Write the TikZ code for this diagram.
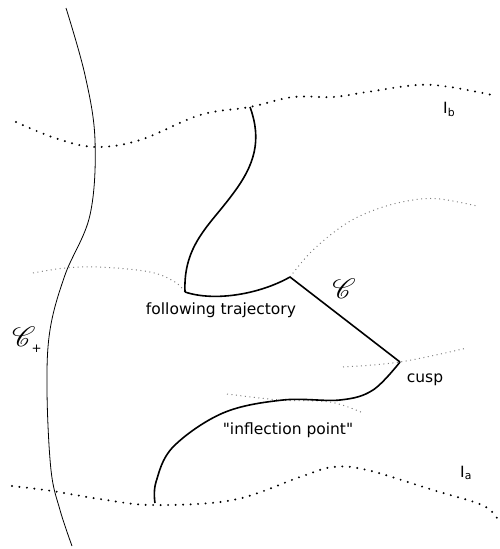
\documentclass[tikz,border=0pt]{standalone}
\usepackage{fontspec}
\setmainfont{DejaVu Sans}
\newfontfamily\plainquotes{DejaVu Sans}[Ligatures=TeXOff]
\usepackage{mathrsfs}
\tikzset{
  thickpath/.style={line width=1.6pt, line join=round},
  thinpath/.style={line width=0.8pt},
  bigdots/.style={line width=2.2pt, line cap=round, dash pattern=on 0pt off 7.5pt},
  finedots/.style={line width=1pt, gray, dash pattern=on 1pt off 3.5pt},
  lbl/.style={font=\fontsize{15.5}{18}\selectfont, inner sep=0pt, anchor=base},
  scr/.style={inner sep=0pt},
}
\begin{document}
\begin{tikzpicture}[x=1pt,y=-1pt]
\useasboundingbox (0,0) rectangle (500,549);

% key points of the trajectory
\coordinate (top) at (250,107);
\coordinate (k1) at (185,292);
\coordinate (k2) at (290,277);
\coordinate (cusp) at (400,362);
\coordinate (bot) at (155,503);

% level lines
\draw[bigdots] plot[smooth, tension=0.6] coordinates {(16,122) (55,138) (95,147) (140,140) (200,115) (250,107) (293,97) (333,97) (367,92) (417,85) (450,87) (497,96)};
\draw[bigdots] plot[smooth, tension=0.6] coordinates {(12,486) (52,491) (100,499) (153,505) (233,500) (300,477) (333,467) (367,470) (433,490) (482,505) (497,518)};

% boundary curve
\draw[thinpath] plot[smooth, tension=0.6] coordinates {(66,8) (85,75) (95,140) (90,215) (65,275) (50,330) (47,390) (51,470) (60,510) (72,546)};

% fine dotted guides
\draw[finedots] plot[smooth, tension=0.6] coordinates {(33,273) (65,268) (100,267) (150,272) (175,282) (k1)};
\draw[finedots] plot[smooth, tension=0.6] coordinates {(k2) (313,250) (347,223) (380,208) (413,200) (440,199) (477,206)};
\draw[finedots] plot[smooth, tension=0.6] coordinates {(343,367) (cusp) (467,348)};
\draw[finedots] plot[smooth, tension=0.6] coordinates {(227,394) (280,400) (330,402) (363,413)};

% the trajectory
\draw[thickpath] (top) .. controls (262,140) and (255,165) .. (232,195)
  .. controls (210,225) and (183,245) .. (k1);
\draw[thickpath] (k1) .. controls (215,302) and (260,294) .. (k2) -- (cusp);
\draw[thickpath] plot[smooth, tension=0.6] coordinates {(cusp) (373,390) (340,400) (283,400) (223,413) (173,447) (156,482) (bot)};

% labels
\node[lbl] (ft) at (221,314) {following trajectory};
\node[lbl] (cu) at (425,382) {cusp};
\node[lbl, font=\fontsize{15.5}{18}\plainquotes] (ip) at (288,434) {"inflection point"};
\node[lbl, anchor=base west] (ib) at (443,113) {I\textsubscript{b}};
\node[lbl, anchor=base west] (ia) at (460,477) {I\textsubscript{a}};
\node[scr] (cc) at (344,289) {\scalebox{2.8}{$\mathscr{C}$}};
\node[scr, anchor=west] (cp) at (12,340) {\scalebox{2.8}{$\mathscr{C}$}\kern-4pt\raisebox{-6pt}{\fontsize{12}{13}\selectfont +}};
\end{tikzpicture}
\end{document}
